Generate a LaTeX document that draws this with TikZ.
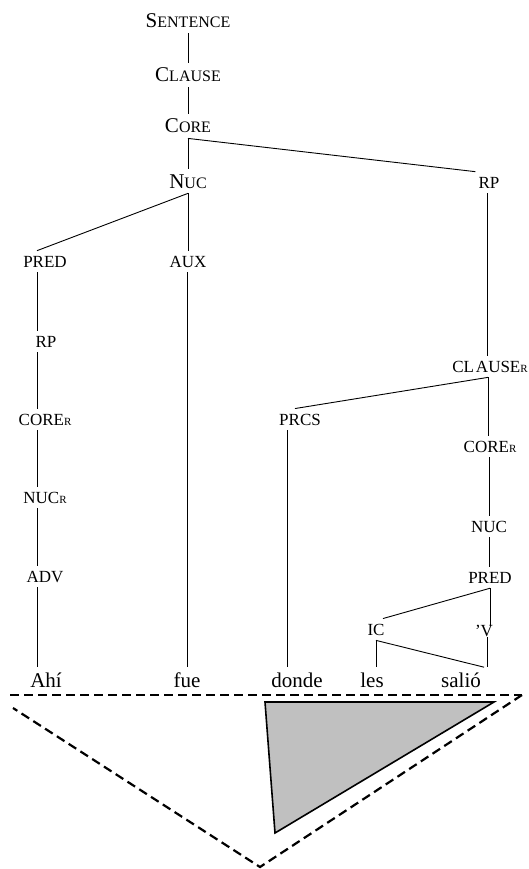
\documentclass[tikz,border=0pt]{standalone}
\usepackage{fontspec}
\setmainfont{Liberation Serif}
\newcommand\mysc[2]{{\fontsize{21}{21}\selectfont #1}{\fontsize{16}{16}\selectfont #2}}
\newcommand\myR{{\fontsize{11}{11}\selectfont R}}
\begin{document}
\begin{tikzpicture}[x=1pt,y=-1pt,
  lab/.style={font=\fontsize{17}{17}\selectfont, inner xsep=3pt, inner ysep=5pt, anchor=base},
  word/.style={font=\fontsize{21}{21}\selectfont, inner xsep=3pt, inner ysep=5pt, anchor=base},
  edge/.style={draw=black, line width=0.9pt},
  dashline/.style={draw=black, line width=2.2pt, dash pattern=on 9pt off 5pt},
  graytri/.style={draw=black, line width=1.6pt, fill={rgb,255:red,192;green,192;blue,192}, line join=miter}]
\useasboundingbox (0,0) rectangle (529,869);

% labels
\node[lab] (sent) at (188,28) {\mysc{S}{ENTENCE}};
\node[lab] (clause) at (188,82) {\mysc{C}{LAUSE}};
\node[lab] (core) at (188,133) {\mysc{C}{ORE}};
\node[lab] (nuc) at (188,188) {\mysc{N}{UC}};
\node[lab] (aux) at (188,267) {AUX};
\node[lab] (rpr) at (489,188) {RP};
\node[lab] (predl) at (45,267) {PRED};
\node[lab] (rpl) at (46,347) {RP};
\node[lab] (corel) at (45,425) {CORE\myR};
\node[lab] (nucl) at (45,503) {NUC\myR};
\node[lab] (adv) at (45,582) {ADV};
\node[lab] (clauser) at (490,372) {CL\kern2pt AUSE\myR};
\node[lab] (prcs) at (300,425) {PRCS};
\node[lab] (corer) at (490,452) {CORE\myR};
\node[lab] (nucr) at (489,532) {NUC};
\node[lab] (predr) at (490,583) {PRED};
\node[lab] (ic) at (376,635) {IC};
\node[lab] (v) at (484,636) {’V};

% words
\node[word] (ahi) at (46,687) {Ahí};
\node[word] (fue) at (187,687) {fue};
\node[word] (donde) at (297,687) {donde};
\node[word] (les) at (372,687) {les};
\node[word] (salio) at (461,687) {salió};

% connectors: spine
\draw[edge] (sent.south) -- (clause.north);
\draw[edge] (clause.south) -- (core.north);
\draw[edge] (core.south) -- (nuc.north);
\draw[edge] (core.south) -- (rpr.north west);
\draw[edge] (nuc.south) -- ([xshift=-8pt]predl.north);
\draw[edge] (nuc.south) -- (aux.north);
\draw[edge] ([xshift=-1pt]aux.south) -- ([xshift=-1pt]aux.south |- fue.north);

% left column
\draw[edge] ([xshift=-8pt]predl.south) -- ([xshift=-8pt]predl.south |- rpl.north);
\draw[edge] ([xshift=-8pt]predl.south |- rpl.south) -- ([xshift=-8pt]predl.south |- corel.north);
\draw[edge] ([xshift=-8pt]predl.south |- corel.south) -- ([xshift=-8pt]predl.south |- nucl.north);
\draw[edge] ([xshift=-8pt]predl.south |- nucl.south) -- ([xshift=-8pt]predl.south |- adv.north);
\draw[edge] ([xshift=-8pt]predl.south |- adv.south) -- ([xshift=-8pt]predl.south |- ahi.north);

% right side
\draw[edge] ([xshift=-2pt]rpr.south) -- ([xshift=-2pt]rpr.south |- clauser.north);
\draw[edge] ([xshift=-2pt]clauser.south) -- ([xshift=-5pt]prcs.north);
\draw[edge] ([xshift=-2pt]clauser.south) -- ([xshift=-2pt]clauser.south |- corer.north);
\draw[edge] ([xshift=-13pt]prcs.south) -- ([xshift=-13pt]prcs.south |- donde.north);
\draw[edge] ([xshift=-1pt]corer.south) -- ([xshift=-1pt]corer.south |- nucr.north);
\draw[edge] (nucr.south) -- (nucr.south |- predr.north);
\draw[edge] (predr.south) -- ([xshift=7pt]ic.north);
\draw[edge, shorten >=-6pt] (predr.south) -- (predr.south |- v.north);
\draw[edge, shorten <=-4pt] ([xshift=-3pt]predr.south |- v.south) -- ([xshift=-3pt]predr.south |- salio.north);
\draw[edge] (ic.south) -- (ic.south |- les.north);
\draw[edge] (ic.south) -- (salio.north east);

% dashed triangle
\draw[dashline] (10,695) -- (522,695);
\draw[dashline] (522,695) -- (260,867) -- (13,708);

% gray triangle
\draw[graytri] (265,702) -- (494,702) -- (275,833) -- cycle;
\end{tikzpicture}
\end{document}
